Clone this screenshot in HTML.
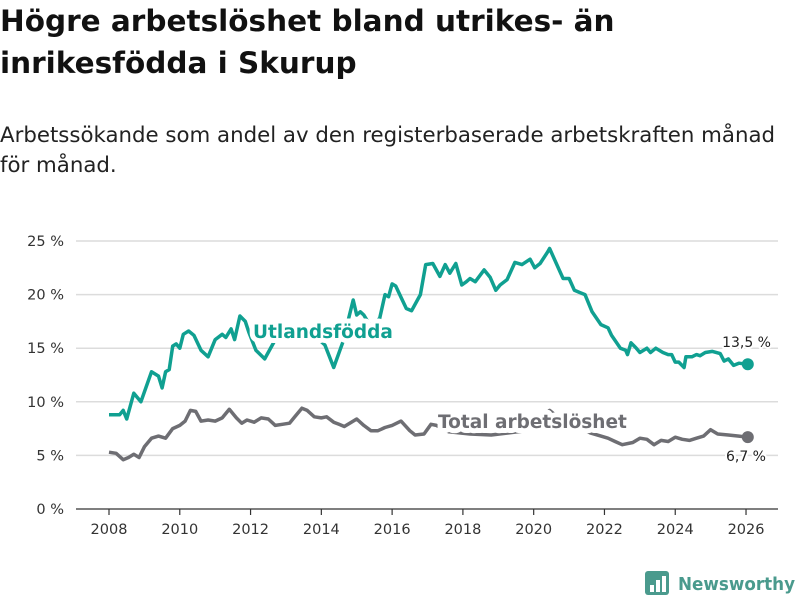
<!DOCTYPE html>
<html><head><meta charset="utf-8"><style>
body{margin:0;background:#fff;font-family:"DejaVu Sans","Liberation Sans",sans-serif;}
#wrap{position:relative;width:800px;height:600px;overflow:hidden;}
h1{position:absolute;left:0;top:0;margin:0;font-size:29.5px;line-height:42px;font-weight:bold;color:#111;width:800px}
#sub{position:absolute;left:0;top:121px;font-size:21.3px;line-height:30px;color:#222;width:795px}
svg{position:absolute;left:0;top:0}
</style></head><body>
<div id="wrap">
<h1>Högre arbetslöshet bland utrikes- än<br>inrikesfödda i Skurup</h1>
<div id="sub">Arbetssökande som andel av den registerbaserade arbetskraften månad<br>för månad.</div>
<svg id="chart" width="800" height="600"></svg>
</div>
<script>
const yTicks=[0,5,10,15,20,25];
const yTickLabels=["0 %","5 %","10 %","15 %","20 %","25 %"];
const xTicks=[2008,2010,2012,2014,2016,2018,2020,2022,2024,2026];
const foreignDates=[2008.0,2008.3,2008.4,2008.5,2008.7,2008.9,2009.2,2009.4,2009.5,2009.6,2009.7,2009.8,2009.9,2010.0,2010.1,2010.25,2010.4,2010.6,2010.8,2011.0,2011.2,2011.3,2011.45,2011.55,2011.7,2011.85,2011.95,2012.15,2012.4,2012.7,2013.0,2013.4,2013.8,2014.1,2014.35,2014.6,2014.9,2015.0,2015.1,2015.2,2015.4,2015.65,2015.8,2015.9,2016.0,2016.1,2016.4,2016.55,2016.8,2016.95,2017.15,2017.35,2017.5,2017.63,2017.8,2017.97,2018.1,2018.2,2018.35,2018.6,2018.77,2018.93,2019.05,2019.25,2019.47,2019.67,2019.9,2020.03,2020.18,2020.4,2020.45,2020.75,2020.83,2021.0,2021.15,2021.3,2021.45,2021.65,2021.9,2022.1,2022.2,2022.45,2022.6,2022.65,2022.75,2022.9,2023.0,2023.2,2023.3,2023.45,2023.65,2023.8,2023.9,2024.0,2024.1,2024.25,2024.3,2024.47,2024.6,2024.7,2024.85,2025.05,2025.27,2025.38,2025.5,2025.65,2025.8,2026.05];
const foreignValues=[8.8,8.8,9.2,8.4,10.8,10.0,12.8,12.4,11.3,12.8,13.0,15.2,15.4,15.0,16.3,16.6,16.2,14.8,14.2,15.8,16.3,16.0,16.8,15.8,18.0,17.5,16.5,14.8,14.0,15.8,16.8,16.5,16.2,15.3,13.2,15.5,19.5,18.1,18.4,18.1,17.0,17.8,20.0,19.8,21.0,20.8,18.7,18.5,20.0,22.8,22.9,21.7,22.8,22.0,22.9,20.9,21.2,21.5,21.2,22.3,21.6,20.4,20.9,21.4,23.0,22.8,23.3,22.5,22.9,24.0,24.3,22.1,21.5,21.5,20.4,20.2,20.0,18.4,17.2,16.9,16.2,15.0,14.8,14.4,15.5,15.0,14.6,15.0,14.6,15.0,14.6,14.4,14.4,13.7,13.7,13.2,14.2,14.2,14.4,14.3,14.6,14.7,14.5,13.8,14.0,13.4,13.6,13.5];
const totalDates=[2008.0,2008.2,2008.4,2008.55,2008.7,2008.85,2009.0,2009.2,2009.4,2009.6,2009.8,2010.0,2010.15,2010.3,2010.45,2010.6,2010.8,2011.0,2011.2,2011.4,2011.6,2011.75,2011.9,2012.1,2012.3,2012.5,2012.7,2012.9,2013.1,2013.25,2013.45,2013.6,2013.8,2014.0,2014.15,2014.35,2014.5,2014.65,2014.8,2015.0,2015.2,2015.4,2015.6,2015.8,2016.0,2016.25,2016.5,2016.65,2016.9,2017.1,2017.25,2017.6,2018.2,2018.8,2019.3,2019.8,2020.2,2020.45,2020.7,2021.0,2021.3,2021.6,2021.9,2022.1,2022.3,2022.5,2022.8,2023.0,2023.2,2023.4,2023.6,2023.8,2024.0,2024.2,2024.4,2024.6,2024.8,2025.0,2025.2,2025.5,2025.8,2026.05];
const totalValues=[5.3,5.2,4.6,4.8,5.1,4.8,5.8,6.6,6.8,6.6,7.5,7.8,8.2,9.2,9.1,8.2,8.3,8.2,8.5,9.3,8.5,8.0,8.3,8.1,8.5,8.4,7.8,7.9,8.0,8.6,9.4,9.2,8.6,8.5,8.6,8.1,7.9,7.7,8.0,8.4,7.8,7.3,7.3,7.6,7.8,8.2,7.3,6.9,7.0,7.9,7.8,7.2,7.0,6.9,7.1,7.3,8.6,9.2,8.5,8.0,7.6,7.1,6.8,6.6,6.3,6.0,6.2,6.6,6.5,6.0,6.4,6.3,6.7,6.5,6.4,6.6,6.8,7.4,7.0,6.9,6.8,6.7];
const foreignEndLabel="13,5 %";
const totalEndLabel="6,7 %";

const NS="http://www.w3.org/2000/svg";
const svg=document.getElementById('chart');
const X=v=>109+(v-2008)*35.39;
const Y=v=>509-v*10.72;
function mk(tag,attrs,parent){const e=document.createElementNS(NS,tag);for(const k in attrs)e.setAttribute(k,attrs[k]);(parent||svg).appendChild(e);return e;}
yTicks.forEach((t,i)=>{
  const g=mk('line',{x1:76,x2:778,y1:Y(t),y2:Y(t),stroke:t===0?'#333':'#dcdcdc','stroke-width':t===0?1.3:1.5});
  
  
  const tx=mk('text',{x:64,y:Y(t)+5,'text-anchor':'end','font-size':14.5,fill:'#333'});
  tx.textContent=yTickLabels[i];
  
  
});
xTicks.forEach(t=>{
  const l=mk('line',{x1:X(t),x2:X(t),y1:509,y2:515,stroke:'#333','stroke-width':1.2});
  
  
  const tx=mk('text',{x:X(t),y:534,'text-anchor':'middle','font-size':14.5,fill:'#333'});
  tx.textContent=t;
  
  
});
function line(d,v,color,name){
  const p=mk('path',{d:d.map((x,i)=>(i?'L':'M')+X(x).toFixed(1)+','+Y(v[i]).toFixed(1)).join(''),fill:'none',stroke:color,'stroke-width':3.5,'stroke-linejoin':'round'});
  
  
  const c=mk('circle',{cx:X(d[d.length-1]),cy:Y(v[v.length-1]),r:6,fill:color});
  
  
}
line(totalDates,totalValues,'#6e6e73','total-line');
line(foreignDates,foreignValues,'#10a091','foreign-born-line');
function lbl(x,y,t,col,name,anchor,size,bold){
  const e=mk('text',{x:x,y:y,'text-anchor':anchor,'font-size':size,'font-weight':bold?'bold':'normal',fill:col,stroke:'#fff','stroke-width':bold?10:4,'paint-order':'stroke','stroke-linejoin':'round'});
  e.textContent=t;
  
  
}
lbl(253,338,'Utlandsfödda','#10a091','series-label-foreign','start',18.5,true);
lbl(438,428,'Total arbetslöshet','#6e6e73','series-label-total','start',18.5,true);
lbl(771,347,foreignEndLabel,'#222','end-label-foreign','end',14,false);
lbl(766,461,totalEndLabel,'#222','end-label-total','end',14,false);
const lg=mk('g',{});


mk('rect',{x:645,y:571,width:24,height:24,rx:3,fill:'#4a9a8d'},lg);
[[650,585,4,7],[656,580,4,12],[662,576,4,16]].forEach(r=>mk('rect',{x:r[0],y:r[1],width:r[2],height:r[3],fill:'#fff'},lg));
const lt=mk('text',{x:678,y:590,'font-size':18,'font-weight':'bold',fill:'#4a9a8d',textLength:117,lengthAdjust:'spacingAndGlyphs'},lg);
lt.textContent='Newsworthy';
</script>
</body></html>
